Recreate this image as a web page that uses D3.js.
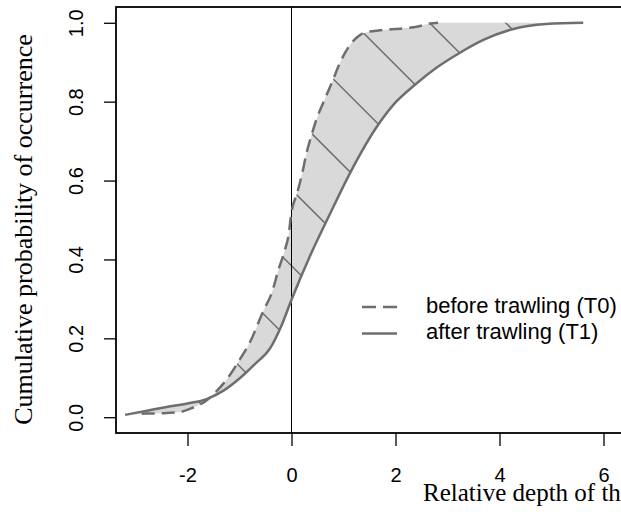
<!DOCTYPE html>
<html>
<head>
<meta charset="utf-8">
<script src="https://cdn.jsdelivr.net/npm/d3@7"></script>
<style>
  body { margin: 0; background: #fff; }
  svg { display: block; }
</style>
</head>
<body>
<div id="chart"></div>
<script>
// cumulative distributions of relative depth, before (T0) and after (T1) trawling
const t0Depth = [-2.88, -2.5, -2.15, -1.9, -1.66, -1.45, -1.25, -1.0, -0.8, -0.54, -0.38, -0.25, -0.125, -0.06, 0.0, 0.11, 0.2, 0.29, 0.39, 0.48, 0.61, 0.8, 0.93, 1.09, 1.25, 1.41, 1.7, 2.09, 2.41, 2.66, 2.82];
const t0Prob  = [0.009, 0.010, 0.013, 0.024, 0.040, 0.065, 0.095, 0.145, 0.19, 0.27, 0.315, 0.374, 0.425, 0.459, 0.52, 0.569, 0.615, 0.67, 0.717, 0.755, 0.797, 0.856, 0.898, 0.937, 0.962, 0.975, 0.981, 0.985, 0.99, 0.998, 1.0];

const t1Depth = [-3.2, -2.8, -2.4, -2.0, -1.63, -1.3, -1.0, -0.7, -0.41, -0.2, 0.0, 0.36, 0.72, 1.125, 1.67, 2.0, 2.375, 2.8, 3.24, 3.7, 4.23, 4.9, 5.61];
const t1Prob  = [0.006, 0.016, 0.026, 0.035, 0.046, 0.068, 0.098, 0.135, 0.175, 0.23, 0.298, 0.41, 0.51, 0.619, 0.742, 0.798, 0.843, 0.887, 0.924, 0.957, 0.983, 0.997, 1.0];

const xTicks = [-2, 0, 2, 4, 6];
const yTicks = [0, 0.2, 0.4, 0.6, 0.8, 1.0];
const legendLabels = ["before trawling (T0)", "after trawling (T1)"];

const width = 621, height = 515;
const plotLeft = 116, plotTop = 7, plotBottom = 433;
const lineColor = "#6e6e6e";

const svg = d3.select("#chart").append("svg")
  .attr("width", width)
  .attr("height", height)
  .style("background", "#fff");

const x = d3.scaleLinear().domain([-3.375, 8.5]).range([plotLeft, plotLeft + 52 * 11.875]);
const y = d3.scaleLinear().domain([-0.04, 1.04]).range([plotBottom, plotTop]);

const t0 = d3.zip(t0Depth, t0Prob);
const t1 = d3.zip(t1Depth, t1Prob);

const line = d3.line()
  .x(d => x(d[0]))
  .y(d => y(d[1]))
  .curve(d3.curveMonotoneX);

// band between the two curves: T0 forward, along 1.0, then T1 backward
const t1Back = t1.slice().reverse();
const bandPath = line(t0) + "L" + line(t1Back).substring(1) + "Z";

svg.append("clipPath").attr("id", "band")
  .append("path").attr("d", bandPath);

svg.append("path")
  .attr("d", bandPath)
  .attr("fill", "#d9d9d9")
  .attr("stroke", "none");

// diagonal hatching inside the band
const hatch = svg.append("g").attr("clip-path", "url(#band)");
d3.range(-2, 11).forEach(k => {
  const c = 126.7 - 76.2 * k;
  hatch.append("line")
    .attr("x1", 80).attr("y1", 80 + c)
    .attr("x2", 700).attr("y2", 700 + c)
    .attr("stroke", lineColor)
    .attr("stroke-width", 1.5);
});

// vertical reference at depth 0
svg.append("line")
  .attr("x1", x(0)).attr("x2", x(0))
  .attr("y1", plotTop).attr("y2", plotBottom)
  .attr("stroke", "#000")
  .attr("stroke-width", 1);

svg.append("path")
  .attr("d", line(t1))
  .attr("fill", "none")
  .attr("stroke", lineColor)
  .attr("stroke-width", 2.5);

svg.append("path")
  .attr("d", line(t0))
  .attr("fill", "none")
  .attr("stroke", lineColor)
  .attr("stroke-width", 2.5)
  .attr("stroke-dasharray", "13,7");

// plot frame
svg.append("rect")
  .attr("x", plotLeft).attr("y", plotTop)
  .attr("width", 700).attr("height", plotBottom - plotTop)
  .attr("fill", "none")
  .attr("stroke", "#000")
  .attr("stroke-width", 1.8);

// axes
const xAxis = svg.append("g")
  .attr("transform", `translate(0,${plotBottom})`)
  .call(d3.axisBottom(x).tickValues(xTicks).tickSize(13).tickFormat(d => String(d)));
xAxis.select(".domain").remove();
xAxis.selectAll("line").attr("stroke", "#000").attr("stroke-width", 1.3);
xAxis.selectAll("text")
  .attr("y", 48.5).attr("dy", null)
  .attr("fill", "#000")
  .style("font-family", "'Liberation Sans', Arial, sans-serif")
  .style("font-size", "20px");

const yAxis = svg.append("g")
  .attr("transform", `translate(${plotLeft},0)`)
  .call(d3.axisLeft(y).tickValues(yTicks).tickSize(12).tickFormat(d3.format(".1f")));
yAxis.select(".domain").remove();
yAxis.selectAll("line").attr("stroke", "#000").attr("stroke-width", 1.3);
yAxis.selectAll("text")
  .attr("x", null).attr("dy", null)
  .attr("text-anchor", "middle")
  .attr("transform", "translate(-33,0) rotate(-90)")
  .attr("fill", "#000")
  .style("font-family", "'Liberation Sans', Arial, sans-serif")
  .style("font-size", "20px");

// axis titles
svg.append("text")
  .attr("transform", "translate(32,229.5) rotate(-90)")
  .attr("text-anchor", "middle")
  .style("font-family", "'Liberation Serif', 'Times New Roman', serif")
  .style("font-size", "26px")
  .text("Cumulative probability of occurrence");

svg.append("text")
  .attr("x", 423).attr("y", 501)
  .style("font-family", "'Liberation Serif', 'Times New Roman', serif")
  .style("font-size", "25px")
  .text("Relative depth of the sediment (cm)");

// legend
const legend = svg.append("g");
legendLabels.forEach((label, i) => {
  const ly = 307 + i * 26.5;
  legend.append("line")
    .attr("x1", 362).attr("x2", 397)
    .attr("y1", ly).attr("y2", ly)
    .attr("stroke", lineColor)
    .attr("stroke-width", 2.5)
    .attr("stroke-dasharray", i === 0 ? "14,7" : null);
  legend.append("text")
    .attr("x", 426).attr("y", ly + 5.5)
    .style("font-family", "'Liberation Sans', Arial, sans-serif")
    .style("font-size", "22px")
    .text(label);
});
</script>
</body>
</html>
